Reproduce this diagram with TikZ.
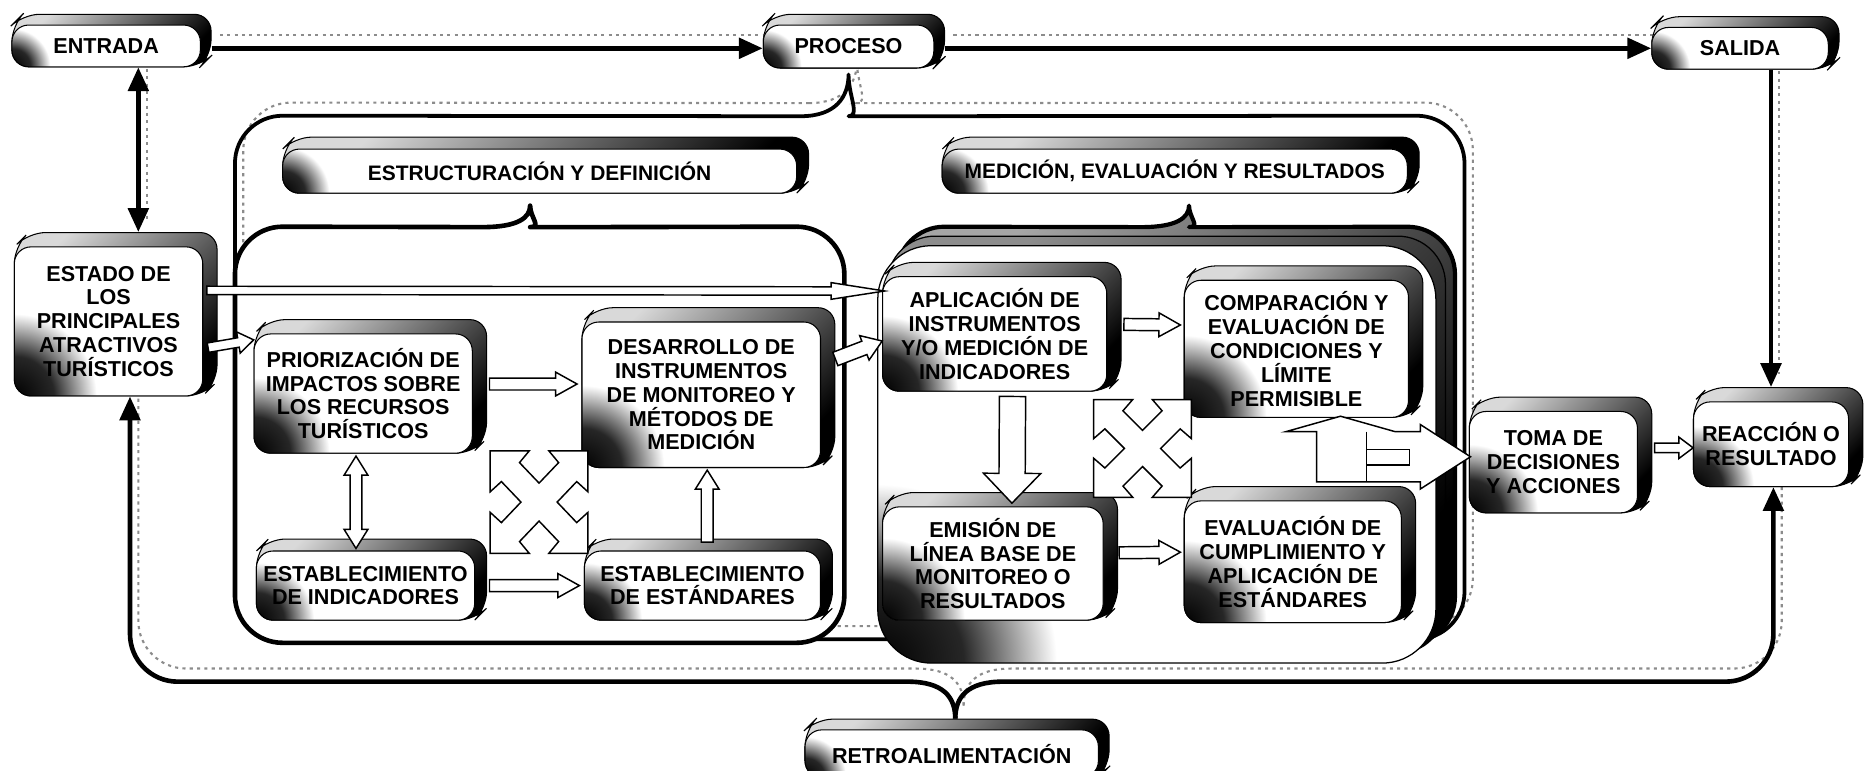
\documentclass[tikz,border=0pt]{standalone}
\usepackage{fontspec}
\setmainfont{Liberation Sans}
\usetikzlibrary{calc,arrows.meta}
\pgfdeclarelayer{bg}
\pgfsetlayers{bg,main}
\pgfdeclareradialshading{blob}{\pgfpointorigin}{color(0bp)=(black); color(12bp)=(black!85); color(25bp)=(white); color(50bp)=(white)}
\newcommand\bfont{\fontsize{10.3}{11.4}\selectfont\bfseries}
\newcommand\tfont{\fontsize{10}{11}\selectfont\bfseries}
% 3D box: name, x1, y1, x2, y2 (front face), depth, blob radius, text
\newcommand\tdbox[8]{%
  \shadedraw[extr] (#2,#3) -- ({#2+#6},{#3-#6}) -- ({#4+#6},{#3-#6}) -- ({#4+#6},{#5-#6}) -- (#4,#5) -- (#2,#5) -- cycle;
  \fill[white, rounded corners=0.28cm] (#2,#3) rectangle (#4,#5);
  \begin{scope}
    \clip[rounded corners=0.28cm] (#2,#3) rectangle (#4,#5);
    \shade[shading=blob] (#2,#5) circle [radius={#7*0.023cm}];
  \end{scope}
  \node[face, minimum width={(#4-(#2))*0.02cm}, minimum height={(#5-(#3))*0.02cm}] (#1) at ({(#2+#4)/2},{(#3+#5)/2}) {#8};}
\newcommand\getdir[2]{%
  \path let \p1=(#1), \p2=(#2) in \pgfextra{\pgfmathsetmacro\baA{atan2(\y2-\y1,\x2-\x1)}\pgfmathsetmacro\baL{veclen(\x2-\x1,\y2-\y1)/0.56693}\global\let\baA\baA\global\let\baL\baL};}
% block arrow: start, end, half shaft, half head, head length (px)
\newcommand\barrow[5]{\getdir{#1}{#2}%
  \begin{scope}[shift={(#1)}, rotate=\baA, x=0.02cm, y=0.02cm]
  \draw[blk] (0,-#3) -- ({\baL-#5},-#3) -- ({\baL-#5},-#4) -- (\baL,0) -- ({\baL-#5},#4) -- ({\baL-#5},#3) -- (0,#3) -- cycle;
  \end{scope}}
\newcommand\dbarrow[5]{\getdir{#1}{#2}%
  \begin{scope}[shift={(#1)}, rotate=\baA, x=0.02cm, y=0.02cm]
  \draw[blk] (0,0) -- (#5,#4) -- (#5,#3) -- ({\baL-#5},#3) -- ({\baL-#5},#4) -- (\baL,0) -- ({\baL-#5},-#4) -- ({\baL-#5},-#3) -- (#5,-#3) -- (#5,-#4) -- cycle;
  \end{scope}}
% four-way diagonal arrow: cx, cy, half width, half height
\newcommand\quadx[4]{%
  \begin{scope}[shift={(#1,#2)}, xscale=#3, yscale=#4]
  \draw[blk] (-1,1) -- (-0.2,1) -- (-0.4,0.77) -- (0,0.37) -- (0.4,0.77) -- (0.2,1) -- (1,1) -- (1,0.2) -- (0.77,0.4) -- (0.37,0) -- (0.77,-0.4) -- (1,-0.2) -- (1,-1) -- (0.2,-1) -- (0.4,-0.77) -- (0,-0.37) -- (-0.4,-0.77) -- (-0.2,-1) -- (-1,-1) -- (-1,-0.2) -- (-0.77,-0.4) -- (-0.37,0) -- (-0.77,0.4) -- (-1,0.2) -- cycle;
  \end{scope}}
\begin{document}
\begin{tikzpicture}[x=0.02cm, y=-0.02cm,
  extr/.style={top color=black!15, bottom color=black, shading angle=45, draw=black, line width=0.5pt, rounded corners=0.28cm},
  face/.style={draw=black, line width=0.5pt, rounded corners=0.28cm, inner sep=0pt, align=center, font=\bfont},
  blk/.style={draw=black, fill=white, line width=0.7pt, line join=miter},
  conn/.style={line width=2.2pt, -{Triangle[length=4mm,width=3.4mm]}},
  dconn/.style={line width=2.2pt, {Triangle[length=4mm,width=3.4mm]}-{Triangle[length=4mm,width=3.4mm]}},
  frame/.style={draw=black, line width=1.8pt, line join=round},
  cont/.style={draw=black, line width=2.2pt, line join=round},
  lay3/.style={top color=black!35, bottom color=black, shading angle=45, draw=black, line width=2pt, line join=round},
  lay2/.style={top color=black!45, bottom color=black, shading angle=45, draw=black, line width=0.6pt},
  lay1/.style={draw=black, line width=0.6pt},
  ghost/.style={draw=black!45, line width=1pt, dash pattern=on 1.5pt off 2pt}]
\useasboundingbox (0,0) rectangle (1568,646);

% top level boxes
\tdbox{entrada}{10}{21}{168}{56}{9}{28}{ENTRADA}
\tdbox{proceso}{640}{21}{783}{57}{9}{28}{PROCESO}
\tdbox{salida}{1385}{23}{1533}{58}{9}{28}{SALIDA}
\tdbox{estado}{12}{207}{170}{332}{12}{60}{ESTADO DE\\LOS\\PRINCIPALES\\ATRACTIVOS\\TURÍSTICOS}
\tdbox{estr}{237}{125}{668}{162}{10}{34}{\tfont ESTRUCTURACIÓN Y DEFINICIÓN}
\tdbox{medi}{790}{125}{1180}{162}{10}{34}{\tfont MEDICIÓN, EVALUACIÓN Y RESULTADOS}
\tdbox{toma}{1232}{345}{1373}{430}{12}{50}{TOMA DE\\DECISIONES\\Y ACCIONES}
\tdbox{reac}{1420}{337}{1550}{408}{12}{44}{REACCIÓN O\\RESULTADO}
\tdbox{retro}{675}{612}{921}{652}{9}{30}{RETROALIMENTACIÓN}

% outer frame (brace from PROCESO)
\coordinate (ptip) at ($(proceso.south)+(0,5)$);
\draw[frame] ($(ptip)+(-40,35)$) [rounded corners=0.8cm] -- (197,97) -- (197,536) -- (1228,536) -- (1228,97) -- ($(ptip)+(40,35)$) [sharp corners] .. controls +(-30,0) and +(0,18) .. (ptip) .. controls +(0,18) and +(30,0) .. ($(ptip)+(-40,35)$);

% left container (brace from ESTRUCTURACION)
\coordinate (ltip) at ($(estr.south)+(-8,10)$);
\draw[cont, fill=white] ($(ltip)+(-40,18)$) [rounded corners=0.8cm] -- (197,190) -- (197,539) -- (708,539) -- (708,190) -- ($(ltip)+(40,18)$) [sharp corners] .. controls +(-30,0) and +(0,10) .. (ltip) .. controls +(0,10) and +(30,0) .. ($(ltip)+(-40,18)$) -- cycle;

% right container (stacked, brace from MEDICION)
\coordinate (rtip) at ($(medi.south)+(12,10)$);
\shadedraw[lay3] ($(rtip)+(-40,18)$) [rounded corners=0.8cm] -- (752,190) -- (752,540) -- (1220,540) -- (1220,190) -- ($(rtip)+(40,18)$) [sharp corners] .. controls +(-30,0) and +(0,10) .. (rtip) .. controls +(0,10) and +(30,0) .. ($(rtip)+(-40,18)$) -- cycle;
\shadedraw[lay2, rounded corners=0.8cm] (744,198) rectangle (1212,548);
\fill[white, rounded corners=0.9cm] (736,206) rectangle (1204,556);
\begin{scope}
  \clip[rounded corners=0.9cm] (736,206) rectangle (1204,556);
  \shade[shading=blob] (736,556) circle [radius=3cm];
\end{scope}
\draw[lay1, rounded corners=0.9cm] (736,206) rectangle (1204,556);

% inner boxes
\tdbox{prio}{213}{280}{396}{380}{12}{55}{PRIORIZACIÓN DE\\IMPACTOS SOBRE\\LOS RECURSOS\\TURÍSTICOS}
\tdbox{desa}{488}{270}{688}{392}{12}{60}{DESARROLLO DE\\INSTRUMENTOS\\DE MONITOREO Y\\MÉTODOS DE\\MEDICIÓN}
\tdbox{estind}{215}{462}{398}{520}{10}{42}{ESTABLECIMIENTO\\DE INDICADORES}
\tdbox{estest}{490}{462}{688}{520}{10}{42}{ESTABLECIMIENTO\\DE ESTÁNDARES}
\tdbox{apl}{740}{232}{928}{328}{12}{55}{APLICACIÓN DE\\INSTRUMENTOS\\Y/O MEDICIÓN DE\\INDICADORES}
\tdbox{comp}{993}{235}{1181}{350}{12}{60}{COMPARACIÓN Y\\EVALUACIÓN DE\\CONDICIONES Y\\LÍMITE\\PERMISIBLE}
\tdbox{emis}{740}{425}{925}{520}{12}{60}{EMISIÓN DE\\LÍNEA BASE DE\\MONITOREO O\\RESULTADOS}
\tdbox{eval}{993}{420}{1175}{522}{12}{60}{EVALUACIÓN DE\\CUMPLIMIENTO Y\\APLICACIÓN DE\\ESTÁNDARES}

% thick black connectors
\draw[conn] ($(entrada.east)+(9,2)$) -- ($(proceso.west)+(0,1.5)$);
\draw[conn] ($(proceso.east)+(9,1.5)$) -- (salida.west);
\draw[dconn] ($(entrada.south)+(27,0)$) -- ($(estado.north)+(25,-12)$);
\draw[conn] (salida.south -| reac.north) -- ($(reac.north)+(0,-12)$);
\coordinate (fbtip) at ($(retro.north)+(3,-9)$);
\draw[conn] (fbtip) .. controls +(0,-18) and +(30,0) .. ($(fbtip)+(-40,-31)$) [rounded corners=0.8cm] -| ($(estado.south)+(18,0)$);
\draw[conn] (fbtip) .. controls +(0,-18) and +(-30,0) .. ($(fbtip)+(40,-31)$) [rounded corners=0.8cm] -| ($(reac.south)+(2,0)$);

% block arrows
\barrow{$(estado.east)+(4,22)$}{$(prio.west)+(0,-45)$}{4}{9}{13}
\barrow{$(estado.east)+(3,-26)$}{$(apl.west)+(0,-36)$}{3.5}{7}{45}
\barrow{$(prio.east)+(14,-8)$}{$(desa.west)+(-4,-9)$}{5}{10}{18}
\barrow{$(estind.east)+(12,0)$}{$(estest.west)+(-4,0)$}{5}{10}{18}
\dbarrow{$(prio.south)+(-6,2)$}{$(estind.north)+(-8,-2)$}{5}{10}{16}
\barrow{$(estest.north)+(4,-7)$}{$(desa.south)+(5,2)$}{5}{10}{16}
\barrow{$(desa.east)+(12,-30)$}{$(apl.west)+(0,6)$}{6}{11}{16}
\barrow{$(apl.east)+(14,-8)$}{$(comp.west)+(-3,-20)$}{5}{10}{18}
\barrow{$(apl.south)+(15,4)$}{$(emis.north)+(16,-3)$}{11}{24}{25}
\barrow{$(emis.east)+(13,-9)$}{$(eval.west)+(-3,-8)$}{5}{10}{18}
\barrow{$(toma.east)+(14,-12)$}{$(reac.west)+(0,3)$}{4}{9}{12}
\quadx{452}{421}{41}{43}
\quadx{958}{376}{41}{41}
% merging arrow towards TOMA DE DECISIONES
\draw[blk] (1104,404) -- (1104,362) -- (1078,362) -- (1124,349) -- (1170,362) -- (1191,362) -- (1191,356) -- (1233,383) -- (1191,410) -- (1191,404) -- cycle;
\draw[blk, fill=none] (1146,362) -- (1146,404) (1146,377) -- (1182,377) -- (1182,390) -- (1146,390);

% faint shadow copies of the main lines
\begin{pgfonlayer}{bg}
\begin{scope}[transform canvas={shift={(0.14cm,0.22cm)}}]
\draw[ghost] ($(entrada.east)+(9,2)$) -- ($(proceso.west)+(0,1.5)$);
\draw[ghost] ($(proceso.east)+(9,1.5)$) -- (salida.west);
\draw[ghost] ($(entrada.south)+(27,0)$) -- ($(estado.north)+(25,-12)$);
\draw[ghost] (salida.south -| reac.north) -- ($(reac.north)+(0,-12)$);
\draw[ghost] ($(ptip)+(-40,35)$) [rounded corners=0.8cm] -- (197,97) -- (197,536) -- (1228,536) -- (1228,97) -- ($(ptip)+(40,35)$) [sharp corners] .. controls +(-30,0) and +(0,18) .. (ptip) .. controls +(0,18) and +(30,0) .. ($(ptip)+(-40,35)$);
\draw[ghost] (fbtip) .. controls +(0,-18) and +(30,0) .. ($(fbtip)+(-40,-31)$) [rounded corners=0.8cm] -| ($(estado.south)+(18,0)$);
\draw[ghost] (fbtip) .. controls +(0,-18) and +(-30,0) .. ($(fbtip)+(40,-31)$) [rounded corners=0.8cm] -| ($(reac.south)+(2,0)$);
\end{scope}
\end{pgfonlayer}
\end{tikzpicture}
\end{document}
